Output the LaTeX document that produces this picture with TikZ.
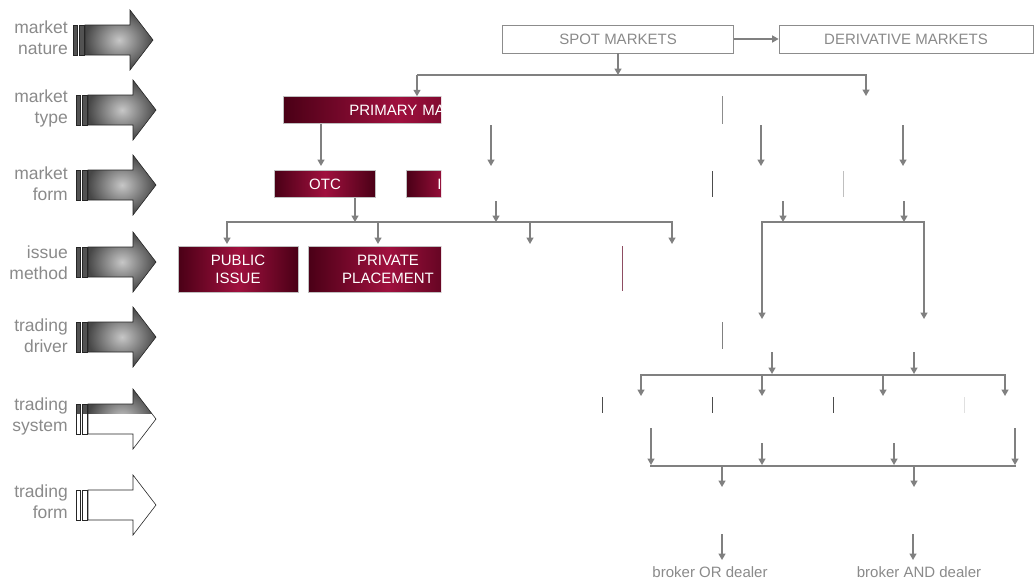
\documentclass[tikz,border=0pt]{standalone}
\usepackage{fontspec}
\setmainfont{Liberation Sans}
\usepackage{xcolor}
\usepackage{tikz}
\usetikzlibrary{arrows.meta}

\definecolor{linegray}{HTML}{808080}
\definecolor{textgray}{HTML}{8A8A8A}
\definecolor{winedark}{HTML}{4A0016}
\definecolor{winelight}{HTML}{A0103E}

\begin{document}
\begin{tikzpicture}[x=1pt, y=-1pt, >={Triangle[width=7pt,length=6.5pt]}]
	\useasboundingbox (0,0) rectangle (1035,582);
	% Define styles
	\tikzstyle{conn}=[draw=linegray, line width=1.5pt]
	\tikzstyle{stub}=[line width=0.9pt]
	\tikzstyle{plain}=[draw=black!45, line width=0.7pt, fill=white, text=textgray, font=\fontsize{15}{18}\selectfont, minimum height=28pt, inner sep=0pt]
	\tikzstyle{winebox}=[draw=black!25, line width=0.5pt, left color=winedark, right color=winedark, middle color=winelight, text=white, font=\fontsize{15}{18}\selectfont, align=center, inner sep=0pt]
	\tikzstyle{side}=[anchor=east, align=right, text=textgray, font=\fontsize{17.5}{21}\selectfont, inner sep=0pt]
	\tikzstyle{bigarrow}=[draw=black!85, line width=0.6pt, inner color=black!22, outer color=black!72]
	\tikzstyle{bar}=[draw=black!85, line width=0.6pt, fill=black!68]

	% level arrows on the left
	\begin{scope}[xshift=-3pt]
		\shade[bigarrow] (88,25) -- (133,25) -- (133,10) -- (156,40) -- (133,70) -- (133,55) -- (88,55) -- cycle;
		\filldraw[bar] (76,25) rectangle (80,55);
		\filldraw[bar] (82,25) rectangle (87,55);
	\end{scope}
	\foreach \y in {110,185,262,337} {
		\shade[bigarrow] (88,\y-15) -- (133,\y-15) -- (133,\y-30) -- (156,\y) -- (133,\y+30) -- (133,\y+15) -- (88,\y+15) -- cycle;
		\filldraw[bar] (76,\y-15) rectangle (80,\y+15);
		\filldraw[bar] (82,\y-15) rectangle (87,\y+15);
	}
	% half revealed arrow
	\fill[white] (88,404) -- (133,404) -- (133,389) -- (156,419) -- (133,449) -- (133,434) -- (88,434) -- cycle;
	\begin{scope}
		\clip (70,385) rectangle (160,413);
		\shade[bigarrow, draw=none] (88,404) -- (133,404) -- (133,389) -- (156,419) -- (133,449) -- (133,434) -- (88,434) -- cycle;
		\fill[black!68] (76,404) rectangle (80,434);
		\fill[black!68] (82,404) rectangle (87,434);
	\end{scope}
	\draw[draw=black!85, line width=0.6pt] (88,404) -- (133,404) -- (133,389) -- (156,419) -- (133,449) -- (133,434) -- (88,434) -- cycle;
	\draw[draw=black!85, line width=0.6pt] (76,404) rectangle (80,434);
	\draw[draw=black!85, line width=0.6pt] (82,404) rectangle (87,434);
	% empty arrow
	\draw[draw=black!85, line width=0.6pt, fill=white] (88,490) -- (133,490) -- (133,475) -- (156,505) -- (133,535) -- (133,520) -- (88,520) -- cycle;
	\draw[draw=black!85, line width=0.6pt] (76,490) rectangle (80,520);
	\draw[draw=black!85, line width=0.6pt] (82,490) rectangle (87,520);

	\node[side] (lnature) at (68,38) {market\\nature};
	\node[side] (ltype) at (68,108) {market\\type};
	\node[side] (lform) at (68,184) {market\\form};
	\node[side] (lissue) at (68,263) {issue\\method};
	\node[side] (ldriver) at (68,336) {trading\\driver};
	\node[side] (lsystem) at (68,416) {trading\\system};
	\node[side] (ltrading) at (68,502) {trading\\form};

	% market nature
	\node[plain, minimum width=231pt] (spot) at (618,39) {SPOT MARKETS};
	\node[plain, minimum width=254pt] (deriv) at (906,39) {DERIVATIVE MARKETS};

	% boxes revealed up to x = 441
	\begin{scope}
		\clip (170,90) rectangle (441,300);
		\node[winebox, anchor=west, minimum height=27pt, text width=100pt, inner xsep=66pt, align=left] (primary) at (283,110) {PRIMARY MA};
		\node[winebox, minimum width=101pt, minimum height=27pt] (otc) at (325,184) {OTC};
		\node[winebox, anchor=west, minimum height=27pt, text width=20pt, inner xsep=31pt, align=left] (exchange) at (406,184) {I};
		\node[winebox, minimum width=120pt, minimum height=46pt] (public) at (238,269) {PUBLIC\\ISSUE};
		\node[winebox, minimum width=160pt, minimum height=46pt] (private) at (388,269) {PRIVATE\\PLACEMENT};
	\end{scope}

	% edges of boxes not yet shown
	\draw[stub, black!45] (722,96) -- (722,124);
	\draw[stub, black!70] (712,171) -- (712,197);
	\draw[stub, black!25] (843,171) -- (843,197);
	\draw[stub, winelight!45!gray] (622,246) -- (622,291);
	\draw[stub, black!50] (722,322) -- (722,349);
	\draw[stub, black!70] (602,397) -- (602,413);
	\draw[stub, black!70] (712,397) -- (712,413);
	\draw[stub, black!70] (833,397) -- (833,413);
	\draw[stub, black!12] (964,397) -- (964,413);

	% connectors
	\coordinate (splitL) at (417,75);
	\coordinate (splitM) at (618,75);
	\coordinate (splitR) at (866,75);
	\coordinate (derivtype) at (866,96);
	\draw[conn,->] (spot.east) -- (deriv.west);
	\draw[conn,->] (spot.south) -- (splitM);
	\draw[conn,->] (splitL |- splitM) -- (splitL |- primary.north);
	\draw[conn,->] (splitL) -- (splitR) -- (derivtype);

	\coordinate (issueL) at (227,222);
	\coordinate (issueR) at (672,222);
	\draw[conn, line cap=rect] (issueL) -- (issueR);
	\coordinate (dealL) at (762,222);
	\coordinate (dealR) at (924,222);
	\draw[conn, line cap=rect] (dealL) -- (dealR);
	\coordinate (sysL) at (641,375);
	\coordinate (sysR) at (1005,375);
	\draw[conn, line cap=rect] (sysL) -- (sysR);
	\coordinate (formL) at (651,466);
	\coordinate (formR) at (1015,466);
	\draw[conn, line cap=rect] (formL) -- (formR);

	\foreach \n/\x/\ya/\yb in {a1/321/124/166, a2/491/125/166, a3/761/125/166, a4/903/125/166,
		b1/355/198/222, b2/496/201/222, b3/783/201/222, b4/904/201/222,
		c1/227/222/244, c2/378/222/244, c3/530/222/244, c4/672/222/244,
		d1/762/222/319, d2/924/222/319,
		e1/772/352/374, e2/914/352/374,
		f1/641/375/396, f2/762/375/396, f3/883/375/396, f4/1005/375/396,
		g1/651/428/465, g2/762/443/465, g3/894/443/465, g4/1015/428/465,
		h1/722/466/487, h2/914/466/487,
		k1/722/534/560, k2/913/534/560} {
		\coordinate (\n top) at (\x,\ya);
		\coordinate (\n end) at (\x,\yb);
		\draw[conn,->] (\n top) -- (\n end);
	}

	\node[text=textgray, font=\fontsize{15}{18}\selectfont, inner sep=0pt] (oneside) at (710,572) {broker OR dealer};
	\node[text=textgray, font=\fontsize{15}{18}\selectfont, inner sep=0pt] (bothsides) at (919,572) {broker AND dealer};
\end{tikzpicture}
\end{document}
